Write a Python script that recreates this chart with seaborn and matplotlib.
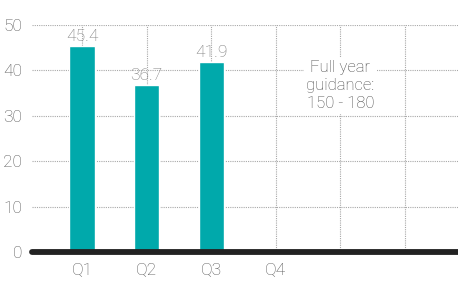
import numpy as np
import pandas as pd
import matplotlib
matplotlib.use('Agg')
import matplotlib.pyplot as plt
import seaborn as sns

# quarterly values (bars) and the slots shown on the x axis
quarters = ['Q1', 'Q2', 'Q3']
values = [45.4, 36.7, 41.9]
slots = ['Q1', 'Q2', 'Q3', 'Q4', ' ', '  ']
slot_labels = ['Q1', 'Q2', 'Q3', 'Q4', '', '']
y_ticks = [0, 10, 20, 30, 40, 50]
note = 'Full year\nguidance:\n150 - 180'

df = pd.DataFrame({'quarter': quarters, 'value': values})

sns.set_style('white')
plt.rcParams['font.family'] = ['Roboto', 'DejaVu Sans']

fig = plt.figure(figsize=(4.58, 2.82), dpi=100)
ax = fig.add_axes([32 / 458, 30 / 282, 426 / 458, 227 / 282])

sns.barplot(data=df, x='quarter', y='value', order=slots, color='#00a9ab',
            saturation=1, width=0.39, ax=ax, zorder=2)

# value labels above bars
for i, v in enumerate(values):
    ax.text(i, v + 0.5, f'{v}', ha='center', va='bottom', fontsize=12.5,
            color='#7a7a7a', fontweight='light', zorder=3)

ax.text(4, 36.6, note, ha='center', va='center', fontsize=12, color='#4a4a4a',
        fontweight='light', linespacing=1.25, zorder=3,
        bbox=dict(facecolor='white', edgecolor='none', boxstyle='square,pad=0.15'))

ax.set_xlim(-0.774, 5.82)
ax.set_ylim(0, 50)
ax.set_yticks(y_ticks)
ax.set_xticks(range(len(slots)))
ax.set_xticklabels(slot_labels)
ax.set_xlabel('')
ax.set_ylabel('')

ax.set_axisbelow(True)
ax.grid(True, axis='both', linestyle=(0, (1, 1)), color='#a8a8a8', linewidth=0.8)
for s in ax.spines.values():
    s.set_visible(False)
ax.axhline(0, color='#222222', linewidth=4.2, zorder=4, clip_on=False)

ax.tick_params(axis='both', length=0, labelsize=12.5, labelcolor='#555555')
ax.tick_params(axis='y', pad=7)
ax.tick_params(axis='x', pad=8)
for t in ax.get_xticklabels() + ax.get_yticklabels():
    t.set_fontweight('light')

fig.savefig('out.png', dpi=100)
